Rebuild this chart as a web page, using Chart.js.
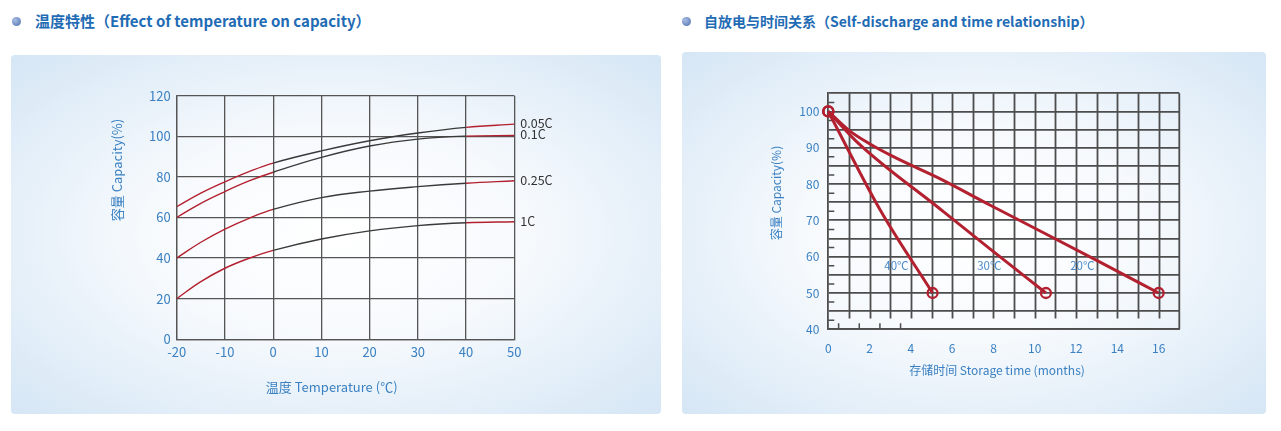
<!DOCTYPE html>
<html>
<head>
<meta charset="utf-8">
<script src="https://cdn.jsdelivr.net/npm/chart.js@4.4.1/dist/chart.umd.min.js"></script>
<style>
  body { margin: 0; width: 1281px; height: 431px; background: #fff; position: relative; overflow: hidden;
         font-family: "Noto Sans CJK SC", "Noto Sans", sans-serif; }
  .head { position: absolute; top: 10px; font-weight: bold; color: #1f6cb5; line-height: 22px; white-space: nowrap; }
  .dot { position: absolute; top: 17px; width: 9px; height: 9px; border-radius: 50%;
         background: radial-gradient(circle at 35% 35%, #a9bde3, #4b6fae); }
  .card { position: absolute; border-radius: 4px;
          background: radial-gradient(ellipse at 50% 50%, #ffffff 0%, #f7fafd 40%, #d5e6f5 100%); }
</style>
</head>
<body>
<div class="dot" style="left:12px"></div>
<div class="head" style="left:35px;font-size:15px">温度特性（Effect of temperature on capacity）</div>
<div class="dot" style="left:682px"></div>
<div class="head" style="left:704px;font-size:14px">自放电与时间关系（Self-discharge and time relationship）</div>

<div class="card" style="left:11px;top:55px;width:650px;height:359px"><canvas id="tempChart"></canvas></div>
<div class="card" style="left:682px;top:52px;width:584px;height:362px"><canvas id="storeChart"></canvas></div>

<script>
// temperature vs capacity
const temps = [-20, -15, -10, -5, 0, 10, 20, 30, 40, 50];
const rateLabels = ['0.05C', '0.1C', '0.25C', '1C'];
const cap005 = [65.3, 72, 77.6, 82.6, 86.8, 92.8, 97.8, 101.6, 104.4, 106];
const cap01 = [60, 67, 72.8, 78, 82.3, 89.6, 95.2, 98.6, 100.1, 100.4];
const cap025 = [40, 47.8, 54.3, 59.6, 64, 69.8, 73, 75.2, 76.9, 78.1];
const cap1 = [20, 28.4, 35, 39.9, 43.8, 49.4, 53.4, 56, 57.4, 57.9];

// self-discharge vs storage time
const storeLabels = ['40℃', '30℃', '20℃'];
const months40 = [0, 2.5, 5.05];
const cap40 = [100, 73, 50];
const months30 = [0, 1.5, 5.4, 7.8, 10.54];
const cap30 = [100, 91, 73.2, 62.3, 50];
const months20 = [0, 1, 2, 3.2, 5.4, 7.8, 13, 16];
const cap20 = [100, 94.8, 91.1, 87.4, 81.5, 74.3, 59, 50];
const labelMonths = [3.3, 7.8, 12.3];
const labelCap = 57.6;

const RED = '#b3202f';
const DARK = '#3a3a3a';
const BLUE = '#3a80c2';
const FONT = '"Noto Sans CJK SC", "Noto Sans", sans-serif';

const axisTitles = {
  id: 'axisTitles',
  afterDraw(chart, args, opts) {
    const ctx = chart.ctx;
    ctx.save();
    ctx.font = opts.size + 'px ' + FONT;
    ctx.fillStyle = BLUE;
    ctx.textAlign = 'center';
    ctx.textBaseline = 'middle';
    ctx.fillText(opts.xText, opts.xPos[0], opts.xPos[1]);
    ctx.translate(opts.yPos[0], opts.yPos[1]);
    ctx.rotate(-Math.PI / 2);
    ctx.fillText(opts.yText, 0, 0);
    ctx.restore();
  }
};

const endLabels = {
  id: 'endLabels',
  afterDatasetsDraw(chart) {
    const ctx = chart.ctx;
    ctx.save();
    ctx.font = '12.5px ' + FONT;
    ctx.fillStyle = '#333';
    ctx.textAlign = 'left';
    ctx.textBaseline = 'middle';
    chart.data.datasets.forEach((ds, i) => {
      const pts = chart.getDatasetMeta(i).data;
      ctx.fillText(ds.label, chart.chartArea.right + 6, pts[pts.length - 1].y - 1);
    });
    ctx.restore();
  }
};

const storeGrid = {
  id: 'storeGrid',
  beforeDatasetsDraw(chart) {
    const {ctx, chartArea: a, scales: {x, y}} = chart;
    ctx.save();
    ctx.strokeStyle = '#4d4d4d';
    ctx.lineWidth = 1.8;
    ctx.beginPath();
    for (let m = 1; m < 17; m++) {
      const px = Math.round(x.getPixelForValue(m)) + 0.5;
      ctx.moveTo(px, a.top);
      ctx.lineTo(px, y.getPixelForValue(43));
    }
    ctx.moveTo(a.right, a.top);
    ctx.lineTo(a.right, a.bottom);
    ctx.stroke();
    ctx.lineWidth = 1.5;
    ctx.beginPath();
    for (let v = 42.5; v < 105; v += 5) {
      const py = y.getPixelForValue(v);
      ctx.moveTo(a.left, py);
      ctx.lineTo(a.left + 6, py);
    }
    for (let m = 0.5; m < 4; m += 1) {
      const px = x.getPixelForValue(m);
      ctx.moveTo(px, a.bottom);
      ctx.lineTo(px, a.bottom - 6);
    }
    ctx.stroke();
    ctx.restore();
  },
  afterDatasetsDraw(chart) {
    const {ctx, scales: {x, y}} = chart;
    ctx.save();
    ctx.font = '11.5px ' + FONT;
    ctx.fillStyle = '#4a8ac8';
    ctx.textAlign = 'center';
    ctx.textBaseline = 'middle';
    storeLabels.forEach((t, i) => {
      ctx.fillText(t, x.getPixelForValue(labelMonths[i]), y.getPixelForValue(labelCap));
    });
    ctx.restore();
  }
};

function lineSet(label, values) {
  return {
    label: label,
    data: temps.map((t, i) => ({x: t, y: values[i]})),
    borderWidth: 1.4,
    borderColor: DARK,
    pointRadius: 0,
    tension: 0.4,
    segment: {
      borderColor: c => (c.p1.parsed.x <= 0 || c.p0.parsed.x >= 40) ? RED : DARK
    }
  };
}

new Chart(document.getElementById('tempChart'), {
  type: 'line',
  data: {
    datasets: [
      lineSet(rateLabels[0], cap005),
      lineSet(rateLabels[1], cap01),
      lineSet(rateLabels[2], cap025),
      lineSet(rateLabels[3], cap1)
    ]
  },
  options: {
    responsive: true,
    maintainAspectRatio: false,
    animation: false,
    layout: { padding: { left: 105.7, top: 40.7, right: 146.7, bottom: 34.7 } },
    plugins: {
      legend: { display: false },
      tooltip: { enabled: false },
      axisTitles: { size: 13, xText: '温度 Temperature (℃)', xPos: [320.7, 331.7],
                    yText: '容量 Capacity(%)', yPos: [105.7, 115] }
    },
    scales: {
      x: {
        type: 'linear', min: -20, max: 50,
        afterFit: s => { s.height = 40; },
        ticks: { stepSize: 10, color: BLUE, padding: 5, font: { size: 13, family: FONT } },
        grid: { color: '#555', lineWidth: 1.3, drawTicks: false },
        border: { color: '#555', width: 1.3 }
      },
      y: {
        min: 0, max: 120,
        afterFit: s => { s.width = 60; },
        ticks: { stepSize: 20, color: BLUE, padding: 6, font: { size: 13, family: FONT } },
        grid: { color: '#555', lineWidth: 1.3, drawTicks: false },
        border: { color: '#555', width: 1.3 }
      }
    }
  },
  plugins: [axisTitles, endLabels]
});

function storeSet(label, months, values) {
  const last = months.length - 1;
  return {
    label: label,
    data: months.map((m, i) => ({x: m, y: values[i]})),
    borderColor: RED,
    borderWidth: 3,
    cubicInterpolationMode: 'monotone',
    pointRadius: c => (c.dataIndex === 0 || c.dataIndex === last) ? 5 : 0,
    pointBorderWidth: 2.3,
    pointBorderColor: RED,
    pointBackgroundColor: 'rgba(255,255,255,0)'
  };
}

new Chart(document.getElementById('storeChart'), {
  type: 'line',
  data: {
    datasets: [
      storeSet(storeLabels[0], months40, cap40),
      storeSet(storeLabels[1], months30, cap30),
      storeSet(storeLabels[2], months20, cap20)
    ]
  },
  options: {
    responsive: true,
    maintainAspectRatio: false,
    animation: false,
    clip: false,
    layout: { padding: { left: 106.3, top: 41.3, right: 86.7, bottom: 54.7 } },
    plugins: {
      legend: { display: false },
      tooltip: { enabled: false },
      axisTitles: { size: 12, xText: '存储时间 Storage time (months)', xPos: [315, 318],
                    yText: '容量 Capacity(%)', yPos: [94.7, 141] }
    },
    scales: {
      x: {
        type: 'linear', min: 0, max: 17,
        afterFit: s => { s.height = 30; },
        ticks: { stepSize: 1, color: BLUE, padding: 4, font: { size: 12, family: FONT },
                 callback: v => (v % 2 === 0 && v <= 16) ? v : '' },
        grid: { display: false },
        border: { color: '#4d4d4d', width: 1.8 }
      },
      y: {
        min: 40, max: 105,
        afterFit: s => { s.width = 40; },
        ticks: { stepSize: 5, color: BLUE, padding: 9, font: { size: 12, family: FONT },
                 callback: v => (v % 10 === 0) ? v : '' },
        grid: { color: '#4d4d4d', lineWidth: 1.8, drawTicks: false },
        border: { color: '#4d4d4d', width: 1.8 }
      }
    }
  },
  plugins: [axisTitles, storeGrid]
});
</script>
</body>
</html>
